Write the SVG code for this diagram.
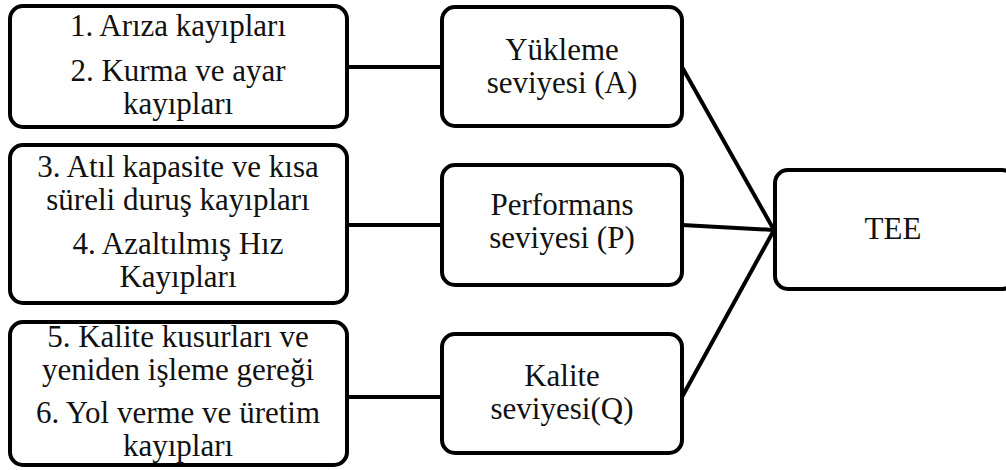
<svg xmlns="http://www.w3.org/2000/svg" width="1006" height="470" viewBox="0 0 1006 470">
<style>
.box{fill:#fff;stroke:#000;stroke-width:4}
.t{font-family:"Liberation Serif","Times New Roman",serif;font-size:31px;fill:#111;text-anchor:middle}
.c{stroke:#000;stroke-width:4;fill:none}
</style>
<rect width="1006" height="470" fill="#fff"/>
<g id="connectors">
<line class="c" x1="347" y1="67" x2="442" y2="67"/>
<line class="c" x1="347" y1="225" x2="442" y2="225"/>
<line class="c" x1="347" y1="397" x2="442" y2="397"/>
<line class="c" x1="682" y1="67" x2="774" y2="230"/>
<line class="c" x1="682" y1="225" x2="774" y2="230"/>
<line class="c" x1="682" y1="397" x2="774" y2="230"/>
</g>
<g id="loss12">
<rect class="box" x="10" y="6" width="337" height="121" rx="13"/>
<text class="t" x="178" y="36">1. Arıza kayıpları</text>
<text class="t" x="178" y="81">2. Kurma ve ayar</text>
<text class="t" x="178" y="114">kayıpları</text>
</g>
<g id="loss34">
<rect class="box" x="10" y="145" width="337" height="158" rx="13"/>
<text class="t" x="178" y="177">3. Atıl kapasite ve kısa</text>
<text class="t" x="178" y="210">süreli duruş kayıpları</text>
<text class="t" x="178" y="254">4. Azaltılmış  Hız</text>
<text class="t" x="178" y="287">Kayıpları</text>
</g>
<g id="loss56">
<rect class="box" x="10" y="322" width="337" height="143" rx="13"/>
<text class="t" x="178" y="347">5. Kalite kusurları ve</text>
<text class="t" x="178" y="380">yeniden işleme  gereği</text>
<text class="t" x="178" y="423">6. Yol verme ve üretim</text>
<text class="t" x="178" y="456">kayıpları</text>
</g>
<g id="nodeA">
<rect class="box" x="442" y="7" width="240" height="119" rx="13"/>
<text class="t" x="562" y="60">Yükleme</text>
<text class="t" x="562" y="93">seviyesi (A)</text>
</g>
<g id="nodeP">
<rect class="box" x="442" y="165" width="240" height="120" rx="13"/>
<text class="t" x="562" y="215">Performans</text>
<text class="t" x="562" y="248">seviyesi (P)</text>
</g>
<g id="nodeQ">
<rect class="box" x="442" y="334" width="240" height="119" rx="13"/>
<text class="t" x="562" y="386">Kalite</text>
<text class="t" x="562" y="419">seviyesi(Q)</text>
</g>
<g id="nodeTEE">
<rect class="box" x="775" y="170" width="240" height="119" rx="13"/>
<text class="t" x="893" y="239">TEE</text>
</g>
</svg>
